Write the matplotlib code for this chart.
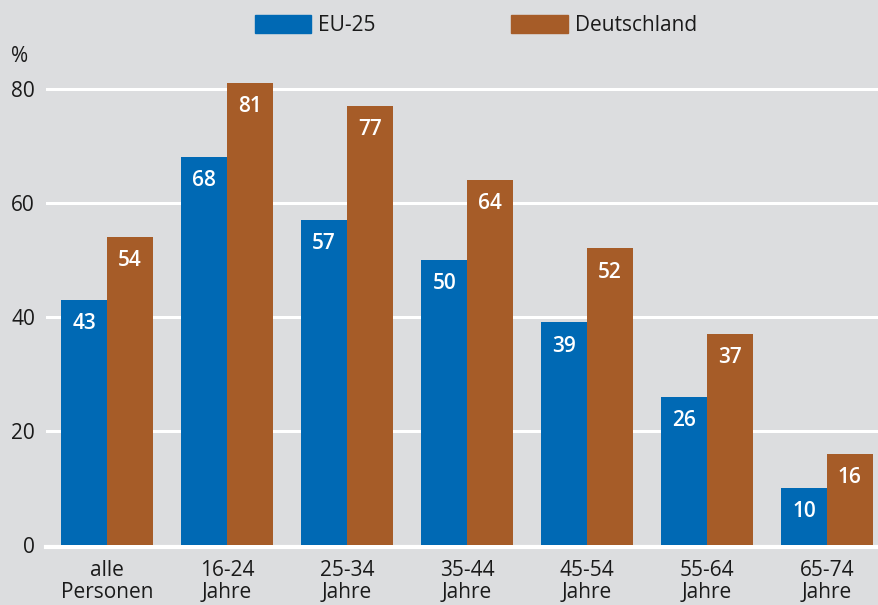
import matplotlib.pyplot as plt
import numpy as np
from matplotlib.patches import Patch

plt.rcParams['font.family'] = ['Open Sans', 'Noto Sans', 'DejaVu Sans']

cats = ['alle\nPersonen', '16-24\nJahre', '25-34\nJahre', '35-44\nJahre',
        '45-54\nJahre', '55-64\nJahre', '65-74\nJahre']
eu25 = [43, 68, 57, 50, 39, 26, 10]
de = [54, 81, 77, 64, 52, 37, 16]
series = ['EU-25', 'Deutschland']

blue = '#0069b4'
brown = '#a65c28'
bg = '#dcdddf'
txt = '#1a1a1a'

fig = plt.figure(figsize=(8.79, 6.05), dpi=100, facecolor=bg)
ax = fig.add_axes([46/879, 60/605, 833/879, 485/605], facecolor=bg)

x = np.arange(len(cats))
w = 0.38
b1 = ax.bar(x - w/2, eu25, w, color=blue, zorder=3)
b2 = ax.bar(x + w/2, de, w, color=brown, zorder=3)

for bars in (b1, b2):
    for r in bars:
        ax.annotate(f'{r.get_height():.0f}', (r.get_x() + r.get_width()/2, r.get_height()),
                    xytext=(0, -24), textcoords='offset pixels', ha='center', va='center',
                    color='white', fontsize=15, fontweight='semibold', zorder=4)

ax.set_xlim(-0.508, 6.433)
ax.set_ylim(0, 85)
ax.set_yticks([0, 20, 40, 60, 80])
ax.set_xticks(x)
ax.set_xticklabels(cats, linespacing=1.05)
ax.tick_params(length=0, labelsize=15, colors=txt)
ax.tick_params(axis='y', pad=8)
ax.tick_params(axis='x', pad=11)
for s in ax.spines.values():
    s.set_visible(False)
for yv in [20, 40, 60, 80]:
    ax.axhline(yv, color='white', lw=2.2, zorder=1)
ax.axhline(-0.3, color='white', lw=3, zorder=2, clip_on=False)

fig.text(11/879, 1 - 57/605, '%', fontsize=15, color=txt, va='center', ha='left')

handles = [Patch(color=blue), Patch(color=brown)]
fig.legend(handles, series, loc='center', bbox_to_anchor=(476/879, 1 - 25.5/605), ncol=2,
           frameon=False, fontsize=15, handlelength=2.7, handleheight=1.0,
           handletextpad=0.35, columnspacing=6.5, labelcolor=txt)

fig.savefig('out.png', dpi=100, facecolor=bg)
